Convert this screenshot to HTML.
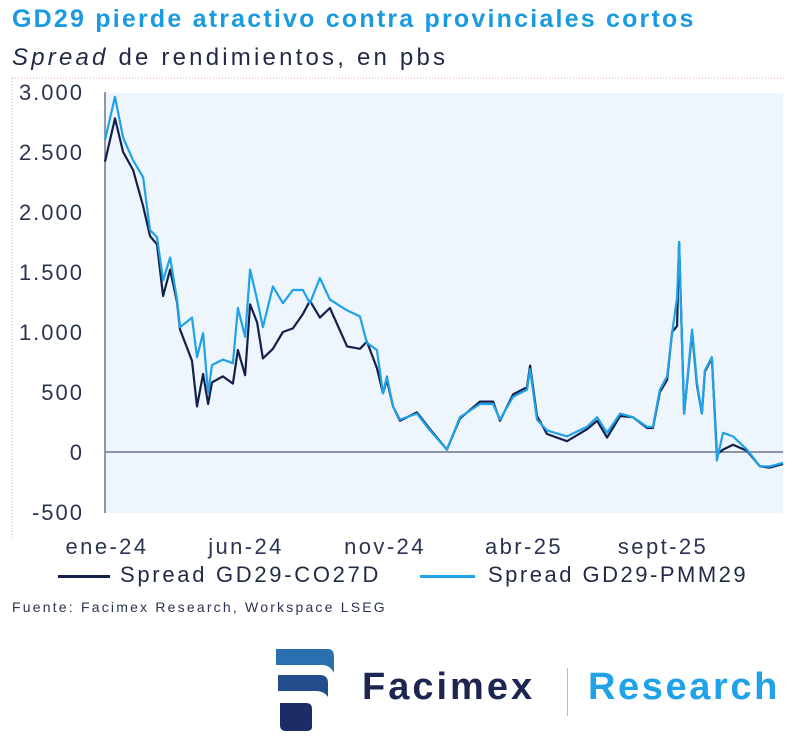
<!DOCTYPE html>
<html><head><meta charset="utf-8">
<style>
body{margin:0;background:#fff;width:800px;height:740px;overflow:hidden;font-family:"Liberation Sans",sans-serif;}
.t{position:absolute;white-space:nowrap}
</style></head>
<body>
<div class="t" style="left:12px;top:5px;font-size:25px;font-weight:bold;letter-spacing:2.2px;color:#1a9be0">GD29 pierde atractivo contra provinciales cortos</div>
<div class="t" style="left:12px;top:44px;font-size:24px;letter-spacing:3.2px;color:#1f2a44"><i>Spread</i> de rendimientos, en pbs</div>
<svg id="chart" width="800" height="740" style="position:absolute;left:0;top:0">
<line x1="12" y1="78" x2="785" y2="78" stroke="#e4a0a0" stroke-width="1" stroke-dasharray="1,2"/>
<line x1="12" y1="78" x2="12" y2="540" stroke="#e4a0a0" stroke-width="1" stroke-dasharray="1,2"/>
<rect x="105" y="93" width="678" height="420" fill="#eef5fc"/>
<g id="yt"></g><g id="xt"></g>
<line x1="105" y1="92" x2="105" y2="513" stroke="#6b7790" stroke-width="1.5"/>
<g id="lines"></g>
</svg>
<div style="position:absolute;left:58px;top:575px;width:52px;height:3px;background:#13204a"></div>
<div class="t" style="left:120px;top:562px;font-size:22px;letter-spacing:2.7px;color:#1f2a44">Spread GD29-CO27D</div>
<div style="position:absolute;left:420px;top:575px;width:55px;height:3px;background:#1fa2e8"></div>
<div class="t" style="left:488px;top:562px;font-size:22px;letter-spacing:2.5px;color:#1f2a44">Spread GD29-PMM29</div>
<div class="t" style="left:12px;top:599px;font-size:14px;letter-spacing:2.2px;color:#2a3450">Fuente: Facimex Research, Workspace LSEG</div>
<svg width="70" height="90" style="position:absolute;left:272px;top:645px">
<path d="M4 4 H56 Q62 4 62 12 V28 Q58 20 50 20 H4 Z" fill="#2a6fb0"/>
<path d="M6 30 H48 Q56 30 56 38 V52 Q52 46 44 46 H6 Z" fill="#234d8c"/>
<path d="M8 58 H34 Q40 58 40 64 V82 Q40 86 34 86 H14 Q8 86 8 80 Z" fill="#1c2d66"/>
</svg>
<div class="t" style="left:362px;top:666px;font-size:38px;font-weight:bold;letter-spacing:3px;color:#1c2650">Facimex</div>
<div style="position:absolute;left:567px;top:668px;width:1px;height:48px;background:#bbb"></div>
<div class="t" style="left:588px;top:666px;font-size:38px;font-weight:bold;letter-spacing:2.6px;color:#1fa2e8">Research</div>
<script>
const months=[0,0.36,0.65,1.01,1.37,1.62,1.87,2.09,2.34,2.59,2.70,3.13,3.31,3.53,3.71,3.85,4.24,4.60,4.78,5.04,5.22,5.47,5.68,6.04,6.40,6.76,7.12,7.37,7.73,8.09,8.71,9.17,9.42,9.78,10.0,10.14,10.36,10.61,11.22,11.69,12.30,12.77,13.49,13.96,14.21,14.68,15.18,15.29,15.54,15.90,16.62,17.34,17.70,18.06,18.53,18.99,19.50,19.71,19.96,20.22,20.40,20.58,20.65,20.83,21.12,21.29,21.47,21.58,21.83,22.01,22.23,22.59,23.09,23.56,23.92,24.39];
const co27d=[2420,2780,2500,2350,2050,1800,1730,1300,1520,1250,1020,760,380,650,400,580,630,570,850,640,1230,1080,780,860,1000,1030,1150,1260,1120,1200,880,860,920,700,490,600,380,260,330,190,20,280,420,420,260,480,540,720,300,150,90,190,260,120,300,290,200,200,500,600,1000,1050,1750,320,1000,560,320,670,780,-20,20,60,10,-120,-130,-100];
const pmm29=[2600,2960,2620,2430,2290,1850,1790,1430,1620,1270,1040,1120,790,990,490,725,770,740,1200,960,1520,1270,1040,1380,1240,1350,1350,1240,1450,1270,1180,1130,910,850,490,630,380,270,320,180,20,290,400,400,270,460,520,690,270,180,130,210,290,160,320,290,210,210,520,630,990,1290,1750,320,1020,580,320,680,790,-70,160,130,20,-120,-120,-90];
const yTicks=[-500,0,500,1000,1500,2000,2500,3000];
const yLabels=["-500","0","500","1.000","1.500","2.000","2.500","3.000"];
const xTicks=[0,5,10,15,20];
const xLabels=["ene-24","jun-24","nov-24","abr-25","sept-25"];
const NS="http://www.w3.org/2000/svg";
const X=m=>105+m*27.8;
const Y=v=>452-v*0.12;
const yt=document.getElementById('yt'),xt=document.getElementById('xt'),lg=document.getElementById('lines');
yTicks.forEach((v,i)=>{
 const t=document.createElementNS(NS,'text');
 
 
 t.setAttribute('x',84);t.setAttribute('y',Y(v)+8);t.setAttribute('text-anchor','end');
 t.setAttribute('font-size','22');t.setAttribute('letter-spacing','2');t.setAttribute('fill','#2a3450');t.setAttribute('font-family','Liberation Sans, sans-serif');
 t.textContent=yLabels[i];yt.appendChild(t);
});
xTicks.forEach((m,i)=>{
 const t=document.createElementNS(NS,'text');
 
 
 t.setAttribute('x',X(m)+2);t.setAttribute('y',554);t.setAttribute('text-anchor','middle');
 t.setAttribute('font-size','22');t.setAttribute('letter-spacing','2.4');t.setAttribute('fill','#2a3450');t.setAttribute('font-family','Liberation Sans, sans-serif');
 t.textContent=xLabels[i];xt.appendChild(t);
});
const zl=document.createElementNS(NS,'line');


zl.setAttribute('x1',105);zl.setAttribute('x2',783);zl.setAttribute('y1',Y(0));zl.setAttribute('y2',Y(0));
zl.setAttribute('stroke','#6b7790');zl.setAttribute('stroke-width','1.5');lg.appendChild(zl);
function line(vals,color,name){
 const p=document.createElementNS(NS,'path');
 
 
 p.setAttribute('d',vals.map((v,i)=>(i?'L':'M')+X(months[i]).toFixed(1)+' '+Y(v).toFixed(1)).join(''));
 p.setAttribute('fill','none');p.setAttribute('stroke',color);p.setAttribute('stroke-width','2.2');p.setAttribute('stroke-linejoin','round');
 lg.appendChild(p);
}
line(co27d,'#13204a','series-co27d');
line(pmm29,'#1fa2e8','series-pmm29');
</script>
</body></html>
